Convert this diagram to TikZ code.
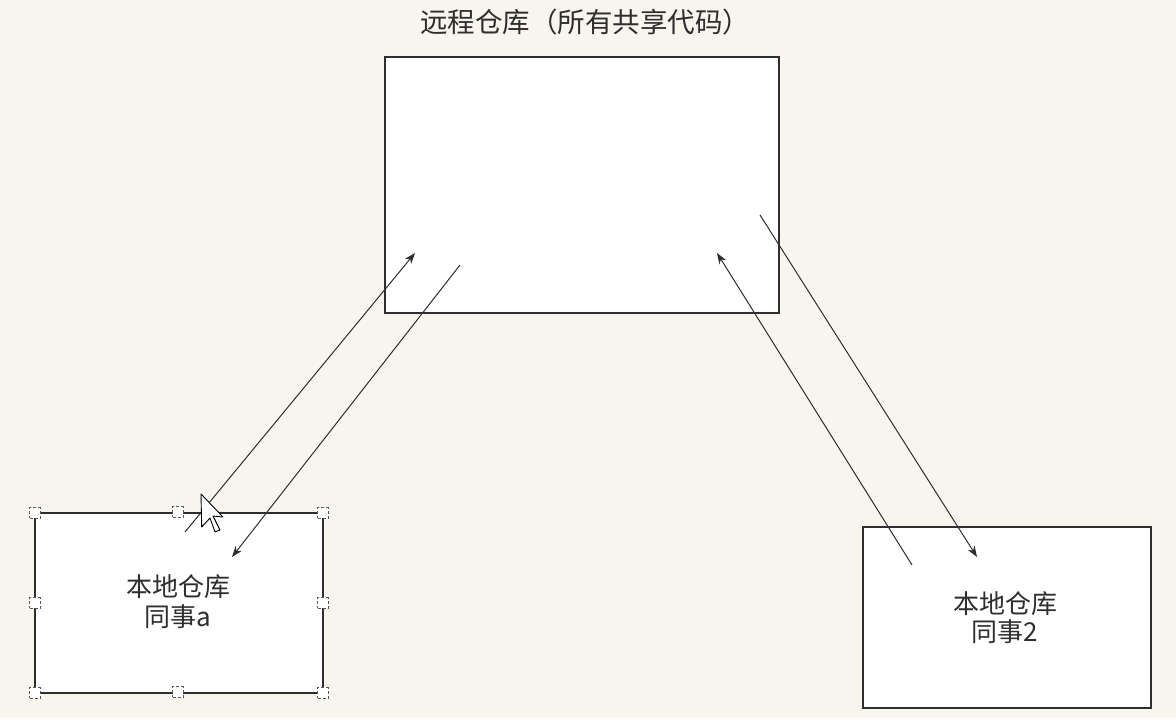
\documentclass[tikz,border=0pt]{standalone}
\usepackage{fontspec}
\setmainfont{Noto Sans CJK SC}
\usetikzlibrary{arrows.meta}
\definecolor{bg}{HTML}{F7F5EE}
\definecolor{ink}{HTML}{2E2E2E}
\tikzset{
  repo/.style={draw=ink, line width=1.7pt, fill=white, inner sep=0pt},
  lbl/.style={text=ink, font=\fontsize{26}{30}\selectfont, align=center, inner sep=0pt},
  flow/.style={draw=ink, line width=1pt, -{Stealth[length=11pt,width=8pt]}},
  handle/.style={draw=ink!80, densely dashed, line width=0.7pt, fill=white, minimum size=10.5pt, inner sep=0pt},
  cursor/.style={draw=black, line width=0.9pt, fill=white, line join=round}
}
\begin{document}
\begin{tikzpicture}[x=1pt, y=-1pt]
\useasboundingbox[fill=bg] (0,0) rectangle (1176,718);
% remote repository
\node[repo, minimum width=394pt, minimum height=256pt] (remote) at (582,185) {};
\node[lbl, font=\fontsize{27.5}{30}\selectfont] (title) at (585,22) {远程仓库（所有共享代码）};
% local repositories
\node[repo, minimum width=288pt, minimum height=180pt] (locA) at (179,603) {};
\node[lbl] (txtA) at (178,602) {本地仓库\\同事a};
\node[repo, minimum width=288pt, minimum height=181pt] (locB) at (1007,617.5) {};
\node[lbl, font=\fontsize{26}{28}\selectfont] (txtB) at (1005,618) {本地仓库\\同事2};
% connector end points
\coordinate (a1s) at (185,532);
\coordinate (a1e) at (415,253);
\coordinate (a2s) at (460,265);
\coordinate (a2e) at (232,557);
\coordinate (b1s) at (912,565);
\coordinate (b1e) at (717,253);
\coordinate (b2s) at (760,215);
\coordinate (b2e) at (977,557);
\draw[flow] (a1s) -- (a1e);
\draw[flow] (a2s) -- (a2e);
\draw[flow] (b1s) -- (b1e);
\draw[flow] (b2s) -- (b2e);
% selection handles
\foreach \n/\p in {h1/{(35,513)}, h2/{(178,512)}, h3/{(323,513)}, h4/{(35,603)}, h5/{(323,603)}, h6/{(35,693)}, h7/{(178,692)}, h8/{(323,693)}}
  \node[handle] (\n) at \p {};
% mouse cursor
\draw[cursor] (201,494) -- ++(0.7,33) -- ++(8.3,-9) -- ++(5,14) -- ++(5,-2) -- ++(-7,-14) -- ++(10,1) -- cycle;
\end{tikzpicture}
\end{document}
